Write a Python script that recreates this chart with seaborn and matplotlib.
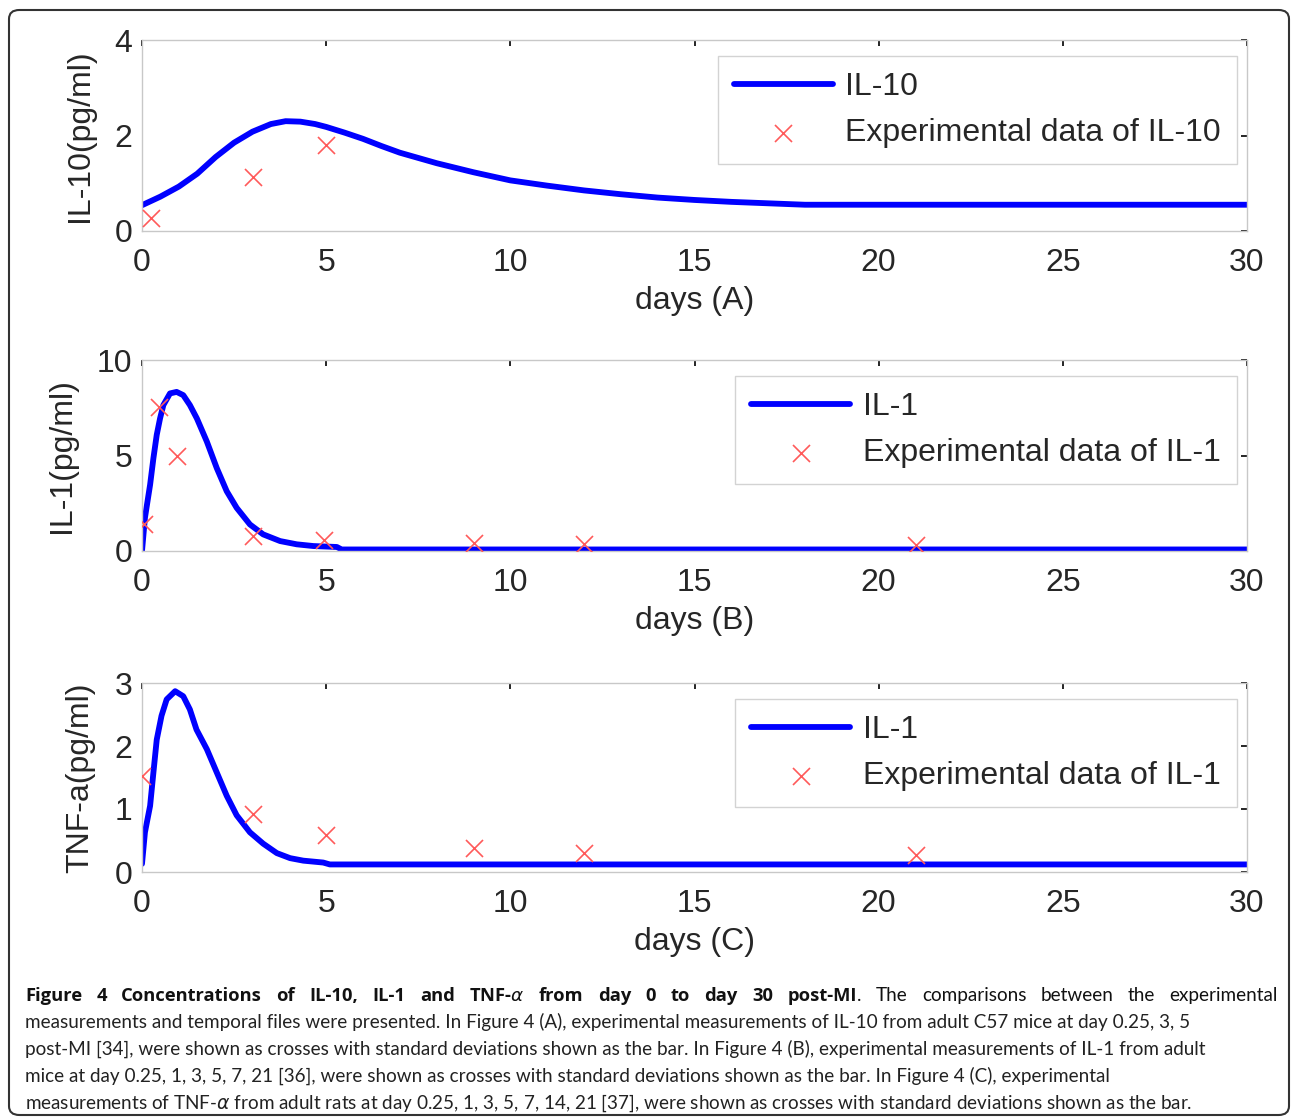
"""Figure 4: IL-10, IL-1 and TNF-a concentrations, model vs experiment."""

import matplotlib
matplotlib.use('Agg')
import matplotlib.pyplot as plt
import seaborn as sns
from matplotlib.patches import FancyBboxPatch

# ---- model curves ----
il10_days = [0, 0.5, 1, 1.5, 2, 2.5, 3, 3.5, 3.9, 4.3, 4.7, 5, 5.5, 6, 6.5, 7,
             8, 9, 10, 11, 12, 13, 14, 15, 16, 17, 18, 30]
il10_vals = [0.54, 0.72, 0.93, 1.2, 1.55, 1.85, 2.08, 2.24, 2.3, 2.29, 2.24,
             2.18, 2.06, 1.93, 1.78, 1.64, 1.42, 1.23, 1.06, 0.95, 0.85, 0.77,
             0.7, 0.65, 0.61, 0.58, 0.55, 0.55]

il1_days = [0, 0.08, 0.22, 0.31, 0.4, 0.49, 0.58, 0.76, 0.94, 1.12, 1.3, 1.49,
            1.76, 2.03, 2.3, 2.57, 2.93, 3.29, 3.75, 4.2, 4.65, 5.29, 5.42, 30]
il1_vals = [0.0, 1.74, 3.47, 4.86, 6.08, 6.94, 7.64, 8.25, 8.33, 8.16, 7.64,
            6.94, 5.73, 4.34, 3.13, 2.26, 1.39, 0.87, 0.52, 0.35, 0.26, 0.21,
            0.08, 0.08]

tnf_days = [0, 0.08, 0.22, 0.31, 0.4, 0.53, 0.67, 0.9, 1.12, 1.3, 1.48, 1.76,
            2.03, 2.3, 2.57, 2.93, 3.29, 3.66, 4.02, 4.38, 4.92, 5.1, 30]
tnf_vals = [0.13, 0.63, 1.05, 1.58, 2.1, 2.48, 2.74, 2.87, 2.79, 2.58, 2.26,
            1.95, 1.58, 1.21, 0.9, 0.63, 0.45, 0.3, 0.22, 0.18, 0.15, 0.12,
            0.12]

# ---- experimental points ----
il10_exp_days = [0.25, 3, 5]
il10_exp_vals = [0.27, 1.14, 1.8]

il1_exp_days = [0.05, 0.45, 0.95, 3, 4.95, 9, 12, 21]
il1_exp_vals = [1.39, 7.55, 4.95, 0.78, 0.6, 0.43, 0.35, 0.3]

tnf_exp_days = [0.0, 3, 5, 9, 12, 21]
tnf_exp_vals = [1.53, 0.92, 0.59, 0.38, 0.3, 0.27]

# ---- labels ----
panel_ylabels = ['IL-10(pg/ml)', 'IL-1(pg/ml)', 'TNF-a(pg/ml)']
panel_xlabels = ['days (A)', 'days (B)', 'days (C)']
line_labels = ['IL-10', 'IL-1', 'IL-1']
exp_labels = ['Experimental data of IL-10', 'Experimental data of IL-1',
              'Experimental data of IL-1']
panel_yticks = [[0, 2, 4], [0, 5, 10], [0, 1, 2, 3]]
x_ticks = [0, 5, 10, 15, 20, 25, 30]

# first caption line: (word, bold?, space before?)
caption_first = [
    ('Figure', True, False), ('4', True, True), ('Concentrations', True, True),
    ('of', True, True), ('IL-10,', True, True), ('IL-1', True, True),
    ('and', True, True), (r'TNF-$\alpha$', True, True), ('from', True, True),
    ('day', True, True), ('0', True, True), ('to', True, True),
    ('day', True, True), ('30', True, True), ('post-MI', True, True),
    ('.', False, False), ('The', False, True), ('comparisons', False, True),
    ('between', False, True), ('the', False, True), ('experimental', False, True),
]
caption_lines = [
    'measurements and temporal files were presented. In Figure 4 (A), experimental measurements of IL-10 from adult C57 mice at day 0.25, 3, 5',
    'post-MI [34], were shown as crosses with standard deviations shown as the bar. In Figure 4 (B), experimental measurements of IL-1 from adult',
    'mice at day 0.25, 1, 3, 5, 7, 21 [36], were shown as crosses with standard deviations shown as the bar. In Figure 4 (C), experimental',
    r'measurements of TNF-$\alpha$ from adult rats at day 0.25, 1, 3, 5, 7, 14, 21 [37], were shown as crosses with standard deviations shown as the bar.',
]

sns.set_style('white')
plt.rcParams['font.family'] = ['Liberation Sans', 'DejaVu Sans']
plt.rcParams['mathtext.fontset'] = 'dejavusans'

W, H = 1293, 1119
fig = plt.figure(figsize=(W / 100, H / 100), dpi=100)

# axes boxes in pixels: (top, bottom)
boxes = [(40, 231), (360, 551), (683, 872)]
ax_left, ax_right = 142, 1247

curves = [(il10_days, il10_vals), (il1_days, il1_vals), (tnf_days, tnf_vals)]
points = [(il10_exp_days, il10_exp_vals), (il1_exp_days, il1_exp_vals),
          (tnf_exp_days, tnf_exp_vals)]

for i, (top, bot) in enumerate(boxes):
    ax = fig.add_axes([ax_left / W, 1 - bot / H, (ax_right - ax_left) / W, (bot - top) / H])
    cx, cy = curves[i]
    px, py = points[i]
    sns.lineplot(x=cx, y=cy, ax=ax, color='#0000ff', linewidth=4.2,
                 label=line_labels[i], estimator=None, sort=False)
    sns.scatterplot(x=px, y=py, ax=ax, marker='x', color='#ff5a5a', s=150,
                    linewidth=1.2, label=exp_labels[i], zorder=3)

    ax.set_xlim(0, 30)
    yt = panel_yticks[i]
    ax.set_ylim(yt[0], yt[-1])
    ax.set_xticks(x_ticks)
    ax.set_yticks(yt)
    ax.tick_params(direction='in', length=4, width=1.2, color='black',
                   top=True, right=True, labelsize=23)
    ax.tick_params(axis='x', pad=12)
    ax.tick_params(axis='y', pad=7)
    for s in ax.spines.values():
        s.set_color('#c8c8c8')
        s.set_linewidth(1.0)
    ax.set_xlabel(panel_xlabels[i], fontsize=23, labelpad=6)
    ax.set_ylabel(panel_ylabels[i], fontsize=23, labelpad=14)

    leg = ax.legend(loc='upper right', bbox_to_anchor=(0.991, 0.915),
                    fontsize=23, frameon=True, fancybox=False,
                    handlelength=3.1, handletextpad=0.4, labelspacing=0.5,
                    borderpad=0.5, borderaxespad=0)
    leg.get_frame().set_edgecolor('#c8c8c8')
    leg.get_frame().set_linewidth(1.0)

# outer frame around the whole figure
frame = FancyBboxPatch((9 / W, 4 / H), (1289 - 9) / W, (1109 - 4) / H,
                       boxstyle='round,pad=0,rounding_size=0.008',
                       transform=fig.transFigure, facecolor='none',
                       edgecolor='#333333', linewidth=1.5)
fig.patches.append(frame)

# caption
cap_font = ['Lato', 'DejaVu Sans']
bold_font = ['Open Sans', 'DejaVu Sans']
cap_size = 13.6
renderer = fig.canvas.get_renderer()

# first line is justified: measure words, then spread the gaps
words = []
for txt, bold, _ in caption_first:
    t = fig.text(0, 1 - 1001 / H, txt, fontsize=cap_size if not bold else 13.2,
                 family=bold_font if bold else cap_font,
                 fontweight='bold' if bold else 'normal', va='baseline',
                 ha='left', color='#111111')
    words.append(t)
widths = [t.get_window_extent(renderer).width for t in words]
n_gaps = sum(1 for _, _, sp in caption_first if sp)
gap = (1278 - 25 - sum(widths)) / n_gaps
x = 25.0
for t, w, (_, _, sp) in zip(words, widths, caption_first):
    if sp:
        x += gap
    t.set_x(x / W)
    x += w

for j, line in enumerate(caption_lines):
    fig.text(25 / W, 1 - (1028 + 27 * j) / H, line, fontsize=cap_size,
             family=cap_font, va='baseline', ha='left', color='#222222')

fig.savefig('out.png', dpi=100)
